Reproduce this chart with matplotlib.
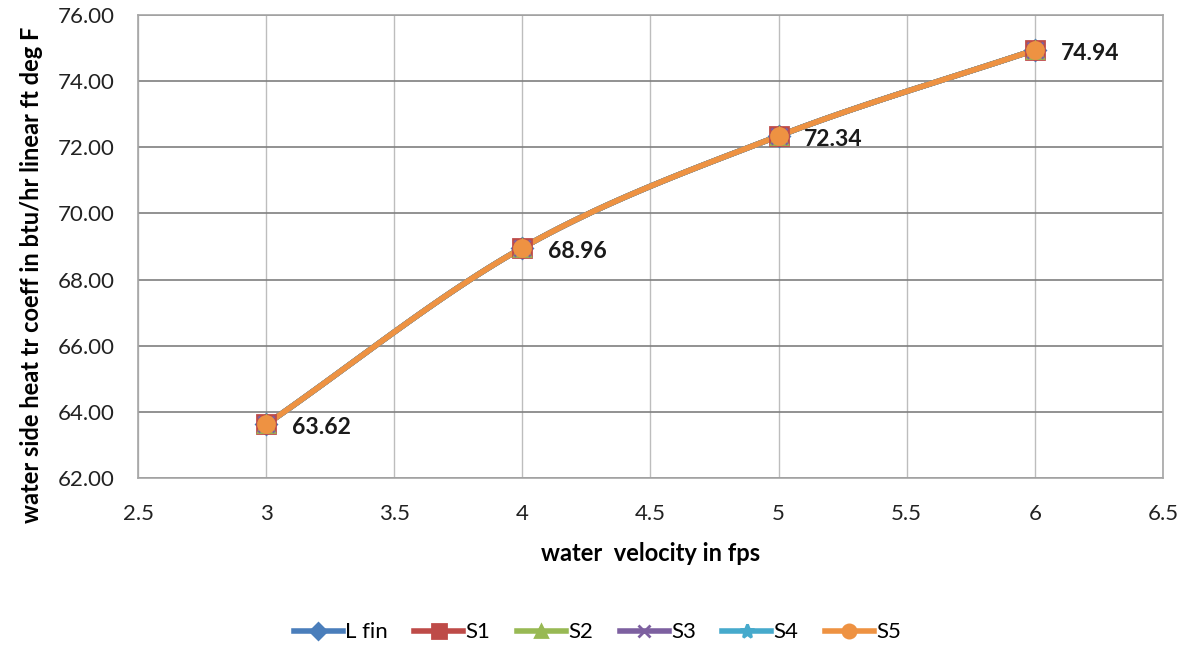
import numpy as np
import matplotlib
matplotlib.use('Agg')
import matplotlib.pyplot as plt

# data (all six series lie on top of each other)
velocity = [3, 4, 5, 6]
l_fin = [63.62, 68.96, 72.34, 74.94]
s1 = [63.62, 68.96, 72.34, 74.94]
s2 = [63.62, 68.96, 72.34, 74.94]
s3 = [63.62, 68.96, 72.34, 74.94]
s4 = [63.62, 68.96, 72.34, 74.94]
s5 = [63.62, 68.96, 72.34, 74.94]
names = ['L fin', 'S1', 'S2', 'S3', 'S4', 'S5']
labels = ['63.62', '68.96', '72.34', '74.94']


def smooth(x, y, n=30):
    # catmull-rom curve through the points, like excel's smoothed line
    x = np.asarray(x, float)
    y = np.asarray(y, float)
    px = np.concatenate([[2 * x[0] - x[1]], x, [2 * x[-1] - x[-2]]])
    py = np.concatenate([[2 * y[0] - y[1]], y, [2 * y[-1] - y[-2]]])
    xs, ys = [], []
    t = np.linspace(0, 1, n)
    for i in range(1, len(px) - 2):
        for p, out in ((px, xs), (py, ys)):
            p0, p1, p2, p3 = p[i - 1], p[i], p[i + 1], p[i + 2]
            out.extend(0.5 * ((2 * p1) + (-p0 + p2) * t
                              + (2 * p0 - 5 * p1 + 4 * p2 - p3) * t ** 2
                              + (-p0 + 3 * p1 - 3 * p2 + p3) * t ** 3))
    return xs, ys


plt.rcParams['font.family'] = ['Lato', 'DejaVu Sans']

fig = plt.figure(figsize=(11.83, 6.5), dpi=100)
ax = fig.add_axes([0.1167, 0.2646, 0.8663, 0.7124])

series = [l_fin, s1, s2, s3, s4, s5]
colors = ['#4A7EBB', '#BE4B48', '#98B954', '#7D60A0', '#46AACC', '#EE9242']
markers = ['D', 's', '^', 'x', '*', 'o']
msizes = [10, 12.5, 11, 11, 12, 11.5]

handles = []
for ys, c, m, ms, name in zip(series, colors, markers, msizes, names):
    sx, sy = smooth(velocity, ys)
    ax.plot(sx, sy, color=c, lw=4, solid_capstyle='round', zorder=3)
    ax.plot(velocity, ys, ls='none', marker=m, ms=ms, color=c,
            mec=c, mew=2, zorder=4)
    h, = ax.plot([], [], color=c, lw=4, marker=m, ms=ms - 2, mec=c, mew=2)
    handles.append(h)

for xv, yv, t in zip(velocity, s5, labels):
    ax.text(xv + 0.1, yv - 0.1, t, fontsize=16.5, fontweight='bold',
            va='center', ha='left', color='#1a1a1a', zorder=5)

ax.set_xlim(2.5, 6.5)
ax.set_ylim(62, 76)
ax.set_xticks(np.arange(2.5, 6.51, 0.5))
ax.set_xticklabels(['2.5', '3', '3.5', '4', '4.5', '5', '5.5', '6', '6.5'])
ax.set_yticks(np.arange(62, 76.1, 2))
ax.set_yticklabels(['%.2f' % v for v in np.arange(62, 76.1, 2)])
ax.tick_params(labelsize=16, length=0, colors='#222222')
ax.tick_params(axis='x', pad=19)
ax.tick_params(axis='y', pad=17)

ax.grid(axis='y', color='#7f7f7f', lw=1.2)
ax.grid(axis='x', color='#bdbdbd', lw=1.0)
ax.set_axisbelow(True)
for sp in ax.spines.values():
    sp.set_color('#a6a6a6')
    sp.set_linewidth(1.2)

ax.set_xlabel('water  velocity in fps', fontsize=17, fontweight='bold',
              labelpad=13)
fig.text(32 / 1183, 1 - 275 / 650,
         'water side heat tr coeff in btu/hr linear ft deg F',
         fontsize=17, fontweight='bold', rotation=90,
         ha='center', va='center')

fig.legend(handles=handles, labels=names, loc='center',
           bbox_to_anchor=(0.505, 0.027), ncol=6, frameon=False,
           fontsize=16, handlelength=2.2, handletextpad=0.1,
           columnspacing=1.2)

fig.savefig('out.png', dpi=100)
